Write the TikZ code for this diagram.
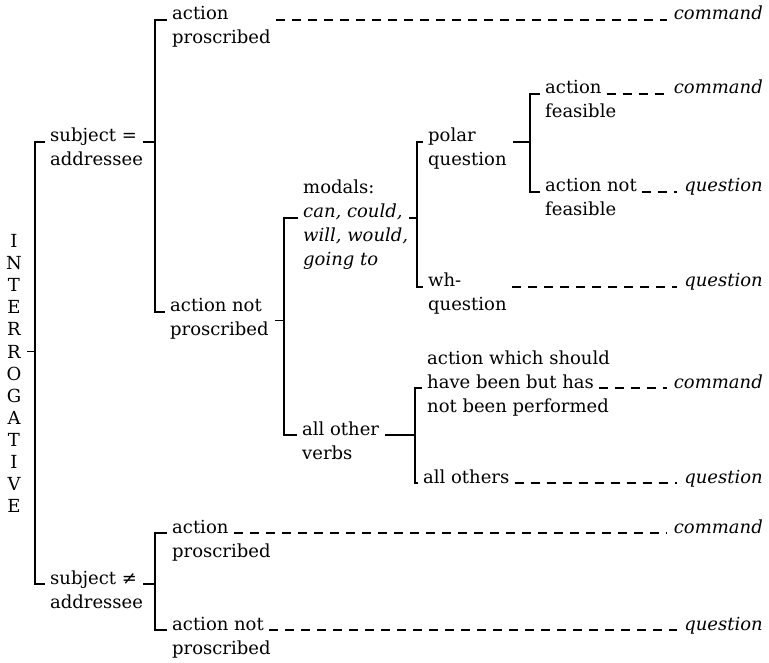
\documentclass[tikz,border=0pt]{standalone}
\usepackage{fontspec}
\setmainfont{DejaVu Serif}
\usetikzlibrary{positioning}

\tikzset{
	lbl/.style={inner sep=2pt, anchor=base west, font=\fontsize{18}{21}\selectfont},
	nxt/.style={below=24pt of #1, anchor=base west},
	res/.style={inner sep=2pt, anchor=base east, font=\fontsize{18}{21}\selectfont\itshape},
	brk/.style={line width=1.2pt, shorten <=3pt, shorten >=3pt},
	tck/.style={line width=1.2pt, shorten <=4pt},
	dsh/.style={line width=1.2pt, dash pattern=on 9pt off 7pt, shorten <=3pt, shorten >=5pt}
}

\begin{document}
\begin{tikzpicture}[x=1pt, y=-1pt]
	\useasboundingbox (0,0) rectangle (769,663);

	% vertical root word
	\foreach \ch [count=\i] in {I,N,T,E,R,R,O,G,A,T,I,V,E}
		{\node[lbl, anchor=base] (L\i) at (14, {248+22*(\i-1)}) {\ch};}

	% subject
	\node[lbl] (sa1) at (48,142) {subject =};
	\node[lbl, nxt=sa1.base west] (sa2) {addressee};
	\node[lbl] (sb1) at (48,584) {subject ≠};
	\node[lbl, nxt=sb1.base west] (sb2) {addressee};

	% action (not) proscribed
	\node[lbl] (pa1) at (170,20) {action};
	\node[lbl, nxt=pa1.base west] (pa2) {proscribed};
	\node[lbl] (na1) at (168,312) {action not};
	\node[lbl, nxt=na1.base west] (na2) {proscribed};
	\node[lbl] (pb1) at (170,533) {action};
	\node[lbl, nxt=pb1.base west] (pb2) {proscribed};
	\node[lbl] (nb1) at (170,630) {action not};
	\node[lbl, nxt=nb1.base west] (nb2) {proscribed};

	% verbs
	\node[lbl] (m1) at (301,194) {modals:};
	\node[lbl, nxt=m1.base west] (m2) {\itshape can, could,};
	\node[lbl, nxt=m2.base west] (m3) {\itshape will, would,};
	\node[lbl, nxt=m3.base west] (m4) {\itshape going to};
	\node[lbl] (v1) at (300,435) {all other};
	\node[lbl, nxt=v1.base west] (v2) {verbs};

	% question types
	\node[lbl] (q1) at (426,142) {polar};
	\node[lbl, nxt=q1.base west] (q2) {question};
	\node[lbl] (w1) at (426,287) {wh-};
	\node[lbl, nxt=w1.base west] (w2) {question};

	\node[lbl] (f1) at (543,94) {action};
	\node[lbl, nxt=f1.base west] (f2) {feasible};
	\node[lbl] (g1) at (543,192) {action not};
	\node[lbl, nxt=g1.base west] (g2) {feasible};

	\node[lbl] (h1) at (425,364) {action which should};
	\node[lbl, nxt=h1.base west] (h2) {have been but has};
	\node[lbl, nxt=h2.base west] (h3) {not been performed};
	\node[lbl] (o1) at (421,483) {all others};

	% outcomes
	\node[res] (r1) at (pa1.base -| 765,0) {command};
	\node[res] (r2) at (f1.base -| 765,0) {command};
	\node[res] (r3) at (g1.base -| 765,0) {question};
	\node[res] (r4) at (w1.base -| 765,0) {question};
	\node[res] (r5) at (h2.base -| 765,0) {command};
	\node[res] (r6) at (o1.base -| 765,0) {question};
	\node[res] (r7) at (pb1.base -| 765,0) {command};
	\node[res] (r8) at (nb1.base -| 765,0) {question};

	% bracket spines
	\coordinate (s0) at (L6.east -| 35,0);
	\coordinate (s1) at (sa1.base east -| 155,0);
	\coordinate (s2) at (sb1.base east -| 155,0);
	\coordinate (s3) at (na2.north east -| 284,0);
	\coordinate (s4) at (m2.base east -| 417,0);
	\coordinate (s5) at (v1.base east -| 415,0);
	\coordinate (s6) at (q1.base -| 530,0);

	\draw[tck] (L6.east) -- (s0);
	\draw[brk] (sa1.base west) -| (s0) |- (sb1.base west);
	\draw[tck] (sa1.base east) -- (s1);
	\draw[brk] (pa1.base west) -| (s1) |- (na1.base west);
	\draw[tck] (sb1.base east) -- (s2);
	\draw[brk] (pb1.base west) -| (s2) |- (nb1.base west);
	\draw[tck] (na2.north east) -- (s3);
	\draw[brk] (m2.base west) -| (s3) |- (v1.base west);
	\draw[tck] (m2.base east) -- (s4);
	\draw[brk] (q1.base west) -| (s4) |- (w1.base west);
	\draw[tck] (q2.east |- q1.base) -- (s6);
	\draw[brk] (f1.base west) -| (s6) |- (g1.base west);
	\draw[tck] (v1.base east) -- (s5);
	\draw[brk] (h2.base west) -| (s5) |- (o1.base west);

	% dashed links to outcomes
	\draw[dsh] (pa2.east |- pa1.base) -- (r1.base west);
	\draw[dsh] (f1.base east) -- (r2.base west);
	\draw[dsh] (g1.base east) -- (r3.base west);
	\draw[dsh] (w2.east |- w1.base) -- (r4.base west);
	\draw[dsh] (h2.base east) -- (r5.base west);
	\draw[dsh] (o1.base east) -- (r6.base west);
	\draw[dsh] (pb1.base east) -- (r7.base west);
	\draw[dsh] (nb1.base east) -- (r8.base west);
\end{tikzpicture}
\end{document}
